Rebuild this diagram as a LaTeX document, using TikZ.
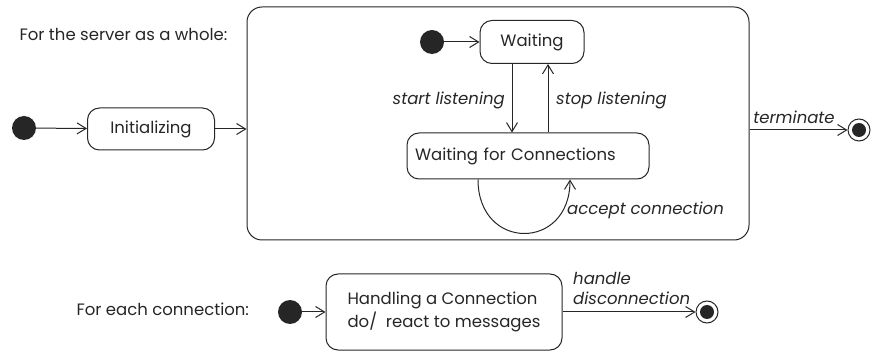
\documentclass[tikz,border=0pt]{standalone}
\usepackage{fontspec}
\setmainfont{Poppins}
\usetikzlibrary{arrows.meta}
\definecolor{ink}{gray}{0.15}
\tikzset{
  state/.style={draw=ink, rounded corners=12pt, line width=1pt, inner sep=0pt},
  start/.style={circle, fill=ink, minimum size=24pt, inner sep=0pt},
  stop/.style={circle, draw=ink, line width=1pt, minimum size=22pt, inner sep=0pt,
    path picture={\fill[ink] (path picture bounding box.center) circle (7pt);}},
  arr/.style={draw=ink, line width=1pt, -{Straight Barb[length=9pt,width=11pt]}},
  event/.style={font=\fontsize{16.5}{20}\selectfont\itshape, text=ink, inner sep=1pt}
}
\begin{document}
\begin{tikzpicture}[x=1pt, y=1pt, font=\fontsize{16.5}{23}\selectfont, text=ink]
  \useasboundingbox (0,0) rectangle (872,-352);

  % the server as a whole
  \node[anchor=west] (serverlbl) at (16,-34) {For the server as a whole:};
  \node[start] (init0) at (24,-128) {};
  \node[state, minimum width=127pt, minimum height=42pt] (initializing) at (151,-129) {Initializing};
  \node[state, rounded corners=15pt, minimum width=502pt, minimum height=233pt] (whole) at (498,-123.5) {};
  \node[start] (init1) at (432,-42) {};
  \node[state, minimum width=104pt, minimum height=43pt] (waiting) at (532,-42) {Waiting};
  \node[state, minimum width=242pt, minimum height=46pt, text width=226pt, align=left] (conns) at (528,-156) {Waiting for Connections};
  \node[stop] (fin0) at (859,-130) {};

  \draw[arr] (init0) -- (initializing);
  \draw[arr] (initializing.east) -- (initializing.east -| whole.west);
  \draw[arr] (init1) -- (waiting);
  \draw[arr] ([xshift=-20pt]waiting.south) -- ([xshift=-16pt]conns.north);
  \draw[arr] ([xshift=20pt]conns.north) -- ([xshift=16pt]waiting.south);
  \draw[arr] ([xshift=-50pt]conns.south) to[out=-90, in=-90, looseness=2] ([xshift=42pt]conns.south);
  \draw[arr] (whole.east |- fin0) -- (fin0);

  \node[event, anchor=east] (startlbl) at (506,-100) {start listening};
  \node[event, anchor=west] (stoplbl) at (555,-100) {stop listening};
  \node[event, anchor=west] (acceptlbl) at (566,-210) {accept connection};
  \node[event] (termlbl) at (794,-117) {terminate};

  % each connection
  \node[anchor=west] (connlbl) at (73,-309) {For each connection:};
  \node[start] (init2) at (290,-312) {};
  \node[state, minimum width=236pt, minimum height=76pt, align=left] (handling) at (444,-312) {Handling a Connection\\do/\ \ react to messages};
  \node[stop] (fin1) at (707,-312) {};
  \draw[arr] (init2) -- (handling);
  \draw[arr] (handling) -- (fin1);
  \node[event, anchor=west, align=left] (disclbl) at (572,-288) {handle\\disconnection};
\end{tikzpicture}
\end{document}
